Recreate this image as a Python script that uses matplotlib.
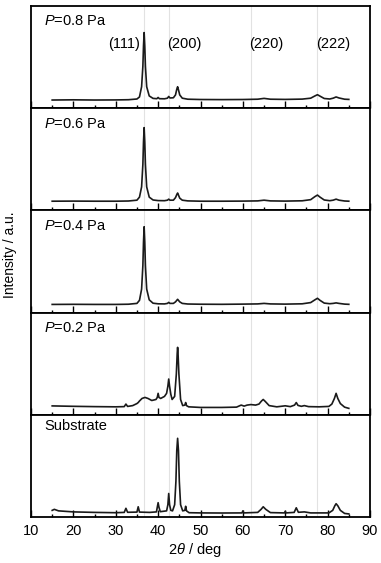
import numpy as np
import matplotlib
matplotlib.use("Agg")
import matplotlib.pyplot as plt

plt.rcParams['font.family'] = ['Liberation Sans', 'DejaVu Sans']
plt.rcParams['mathtext.fontset'] = 'custom'
plt.rcParams['mathtext.rm'] = 'Liberation Sans'
plt.rcParams['mathtext.it'] = 'Liberation Sans:italic'

# panel labels, top to bottom
labels = ['$P$=0.8 Pa', '$P$=0.6 Pa', '$P$=0.4 Pa', '$P$=0.2 Pa', 'Substrate']

# reference peak positions (grey lines) and their labels
ref_pos = [36.7, 42.6, 61.8, 77.6]
ref_names = ['(111)', '(200)', '(220)', '(222)']
ref_text_x = [35.8, 46.1, 65.5, 81.3]

# patterns, intensity in % of panel height
p08_x = [15, 20, 25, 30, 33, 35.0, 35.6, 36.1, 36.4, 36.55, 36.7, 36.85, 37.0, 37.3, 37.9, 38.8,
         39.7, 40.0, 40.3, 41.5, 42.2, 42.5, 42.8, 43.6, 44.1, 44.4, 44.6, 44.8, 45.1, 45.7, 47,
         50, 55, 60, 63.5, 65, 66.5, 70, 74, 76.0, 77.0, 77.6, 78.2, 79.2, 80.5, 81.3, 82.0, 82.7, 84, 85]
p08_y = [8.0, 8.2, 8.0, 8.1, 8.3, 9.0, 11, 21, 41, 61, 74, 61, 41, 21, 12, 9.6,
         9.3, 10.5, 9.3, 9.2, 9.8, 11.5, 10, 10.2, 13, 18.5, 21, 18, 13, 9.8, 8.8,
         8.5, 8.4, 8.5, 8.8, 9.6, 8.8, 8.6, 8.9, 9.8, 12, 13.2, 11.8, 9.5, 9.0, 9.8, 11, 10, 8.8, 8.6]

p06_x = [15, 20, 25, 30, 33, 35.0, 35.6, 36.1, 36.4, 36.55, 36.7, 36.85, 37.0, 37.3, 37.9, 38.8,
         40.0, 41.5, 42.2, 42.5, 42.8, 43.6, 44.1, 44.4, 44.6, 44.8, 45.1, 45.7, 47,
         50, 55, 60, 63.5, 65, 66.5, 70, 74, 76.0, 77.0, 77.6, 78.2, 79.2, 80.5, 81.3, 82.0, 82.7, 84, 85]
p06_y = [9.0, 9.1, 9.0, 9.0, 9.2, 10, 13, 23, 45, 67, 81, 67, 45, 23, 13, 10.2,
         9.6, 9.5, 10, 11, 10, 10, 12.5, 15.5, 17, 15, 12, 10, 9.3,
         9.0, 9.0, 9.1, 9.3, 10, 9.3, 9.1, 9.4, 10.5, 13.5, 15, 13, 10.2, 9.5, 10, 11, 10, 9.2, 9.0]

p04_x = [15, 20, 25, 30, 33, 35.0, 35.6, 36.1, 36.4, 36.55, 36.7, 36.85, 37.0, 37.3, 37.9, 38.8,
         40.0, 41.5, 42.2, 42.5, 42.8, 43.6, 44.1, 44.4, 44.6, 44.8, 45.1, 45.7, 47,
         50, 55, 60, 63.5, 65, 66.5, 70, 74, 76.0, 77.0, 77.6, 78.2, 79.2, 80.5, 81.3, 82.0, 82.7, 84, 85]
p04_y = [8.0, 8.1, 8.0, 8.0, 8.2, 9.0, 12, 23, 46, 69, 84, 69, 46, 23, 12.5, 9.2,
         8.6, 8.5, 9.0, 10, 9.0, 9.0, 10.5, 12, 13, 12, 10.5, 9.0, 8.4,
         8.2, 8.1, 8.3, 8.5, 9.0, 8.5, 8.3, 8.6, 9.8, 12.5, 14, 12, 9.3, 8.7, 9.0, 9.5, 9.0, 8.3, 8.1]

p02_x = [15, 20, 25, 30, 32.0, 32.4, 32.8, 34.0, 35.0, 35.3, 35.6, 36.2, 36.9, 37.6, 38.5, 39.5,
         39.8, 40.0, 40.2, 40.6, 41.5, 42.0, 42.3, 42.5, 42.7, 43.0, 43.3, 43.9, 44.3, 44.5, 44.6, 44.7,
         44.9, 45.3, 45.8, 46.3, 46.5, 46.7, 47.2, 50, 55, 58.5, 59.6, 60.3, 61.0, 61.9, 63.0, 63.8,
         64.4, 64.8, 65.3, 66.2, 68, 70.0, 71.2, 72.2, 72.6, 73.0, 73.8, 74.5, 75.5, 78, 80.3, 81.0,
         81.6, 82.0, 82.4, 83.0, 84, 85]
p02_y = [8.7, 8.3, 8.0, 7.8, 8.0, 10.5, 8.2, 9.0, 11, 12, 13.5, 16, 17, 16, 14, 15,
         17, 21, 17, 16, 18, 21, 28, 35, 28, 20, 15, 18, 40, 60, 66, 60,
         40, 15, 9.0, 9.5, 12, 9.0, 7.8, 7.2, 7.2, 7.5, 9.5, 8.5, 9.5, 10, 9.5, 10.5,
         13.5, 15, 13, 9.0, 7.8, 8.8, 8.0, 9.5, 12, 9.2, 8.3, 9.0, 8.0, 7.8, 8.2, 10.5,
         16, 21, 16, 11, 7.5, 6.3]

sub_x = [15, 15.5, 16.5, 20, 25, 30, 32.0, 32.4, 32.8, 35.0, 35.3, 35.6, 38, 39.6, 39.8, 40.0,
         40.2, 40.5, 42.0, 42.3, 42.5, 42.7, 43.0, 43.4, 43.9, 44.2, 44.4, 44.6, 44.8, 45.0, 45.3, 45.8,
         46.3, 46.5, 46.7, 47.3, 50, 55, 59.8, 60.0, 60.2, 63.5, 64.3, 64.8, 65.4, 66.5, 69.8, 70.0,
         70.2, 72.1, 72.6, 73.1, 74.5, 76, 80.3, 81.2, 81.7, 82.0, 82.4, 83.0, 84, 85]
sub_y = [6.5, 7.5, 6.0, 5.0, 4.5, 4.2, 4.5, 8.5, 4.6, 4.8, 10, 4.8, 4.5, 5.0, 9.5, 14,
         9.5, 5.2, 6.0, 12, 23, 12, 6.5, 6.0, 12, 35, 65, 77, 65, 35, 12, 6.0,
         6.5, 10.5, 6.0, 4.2, 4.0, 3.9, 4.0, 6.0, 4.0, 4.5, 7.5, 10, 7.5, 4.3, 4.0, 5.5,
         4.0, 4.5, 9, 4.6, 5.0, 4.0, 4.0, 6.5, 11, 13, 11, 6.5, 3.5, 3.0]

xs = [p08_x, p06_x, p04_x, p02_x, sub_x]
ys = [p08_y, p06_y, p04_y, p02_y, sub_y]

fig = plt.figure(figsize=(3.81, 5.63), dpi=100)
gs = fig.add_gridspec(5, 1, left=31/381, right=370/381, top=1-6/563, bottom=1-517/563, hspace=0)

for i in range(5):
    ax = fig.add_subplot(gs[i])
    for p in ref_pos:
        ax.axvline(p, color='#e2e2e2', lw=0.8, zorder=0)
    ax.plot(xs[i], ys[i], color='#1a1a1a', lw=1.2)
    ax.set_xlim(10, 90)
    ax.set_ylim(0, 100)
    ax.set_yticks([])
    ax.set_xticks(np.arange(10, 91, 10))
    ax.set_xticks(np.arange(15, 86, 10), minor=True)
    ax.tick_params(axis='x', which='major', direction='in', length=5, width=1.0,
                   labelsize=10.5, pad=5)
    ax.tick_params(axis='x', which='minor', direction='in', length=2, width=1.0)
    for s in ax.spines.values():
        s.set_linewidth(1.3)
    if i < 4:
        ax.tick_params(axis='x', which='major', labelbottom=False)
    ty = 0.89 if i == 4 else 0.85
    ax.text(13/339, ty, labels[i], transform=ax.transAxes, fontsize=10.5, ha='left', va='center')
    if i == 0:
        for xp, name in zip(ref_text_x, ref_names):
            ha = 'right' if name == '(111)' else 'center'
            ax.text(xp, 62.5, name, fontsize=10.5, ha=ha, va='center')

fig.text(10/381, 1-255/563, 'Intensity / a.u.', rotation=90, fontsize=10, ha='center', va='center')
fig.text(195/381, 1-550/563, '2$\\it{\\theta}$ / deg', fontsize=10.5, ha='center', va='center')

fig.savefig('out.png', dpi=100)
